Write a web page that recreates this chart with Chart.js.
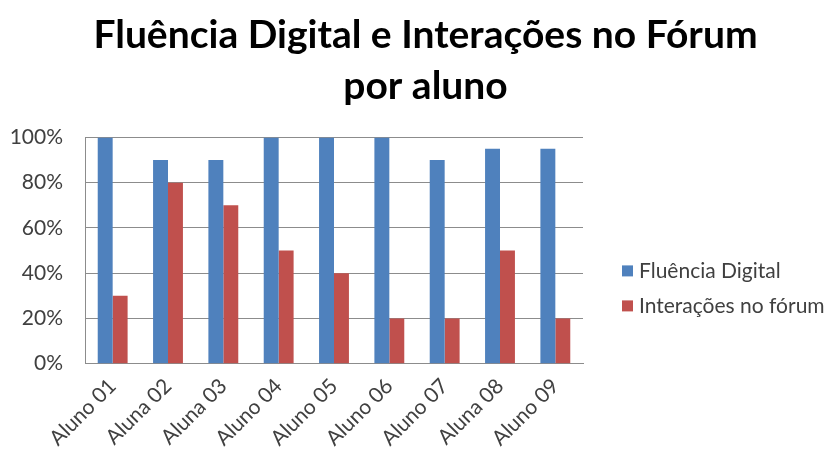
<!DOCTYPE html>
<html>
<head>
<meta charset="utf-8">
<script src="https://cdn.jsdelivr.net/npm/chart.js@4.4.1/dist/chart.umd.min.js"></script>
<style>
  html, body { margin: 0; padding: 0; background: #fff; }
  #wrap { width: 833px; height: 455px; }
</style>
</head>
<body>
<div id="wrap"><canvas id="c"></canvas></div>
<script>
const categories = ['Aluno 01', 'Aluna 02', 'Aluna 03', 'Aluno 04', 'Aluno 05', 'Aluno 06', 'Aluno 07', 'Aluna 08', 'Aluno 09']
const fluencia = [100, 90, 90, 100, 100, 100, 90, 95, 95]
const interacoes = [30, 80, 70, 50, 40, 20, 20, 50, 20]
const yTicks = [0, 20, 40, 60, 80, 100]

const font = 'Lato, Calibri, sans-serif'

// legend drawn by hand so the gap and row spacing match the Excel look
const sideLegend = {
  id: 'side-legend',
  afterDraw(chart) {
    const { ctx, chartArea, data } = chart
    const x = chartArea.right + 39
    const y0 = chartArea.top + 134
    ctx.save()
    ctx.font = `21px ${font}`
    ctx.textBaseline = 'middle'
    data.datasets.forEach((ds, i) => {
      const y = y0 + i * 35
      ctx.fillStyle = ds.backgroundColor
      ctx.fillRect(x, y - 6, 11, 11)
      ctx.fillStyle = '#404040'
      ctx.fillText(ds.label, x + 17, y)
    })
    ctx.restore()
  }
}

const chart = new Chart(document.getElementById('c'), {
  type: 'bar',
  data: {
    labels: categories,
    datasets: [
      { label: 'Fluência Digital', data: fluencia, backgroundColor: '#4F81BD' },
      { label: 'Interações no fórum', data: interacoes, backgroundColor: '#C0504D' }
    ]
  },
  options: {
    responsive: true,
    maintainAspectRatio: false,
    animation: false,
    layout: { padding: { left: 0, right: -18, top: 10, bottom: 2 } },
    datasets: {
      bar: { categoryPercentage: 0.54, barPercentage: 1 }
    },
    scales: {
      x: {
        grid: { display: false },
        border: { color: '#8c8c8c' },
        ticks: {
          color: '#404040',
          font: { family: font, size: 21 },
          minRotation: 45,
          maxRotation: 45,
          padding: 2
        }
      },
      y: {
        min: 0,
        max: 100,
        afterBuildTicks(axis) {
          axis.ticks = yTicks.map(v => ({ value: v }))
        },
        afterFit(scale) {
          scale.width = 85
        },
        grid: { color: '#8c8c8c', drawTicks: false },
        border: { color: '#8c8c8c' },
        ticks: {
          color: '#404040',
          font: { family: font, size: 21 },
          padding: 22,
          callback: v => v + '%'
        }
      },
      // empty right axis keeps room for the legend
      side: {
        position: 'right',
        grid: { display: false },
        border: { display: false },
        ticks: { display: false },
        afterFit(scale) {
          scale.width = 268
        }
      }
    },
    plugins: {
      title: {
        display: true,
        text: ['Fluência Digital e Interações no Fórum', 'por aluno'],
        color: '#000',
        font: { family: font, size: 39, weight: 'bold', lineHeight: 1.3 },
        padding: { top: 0, bottom: 26 }
      },
      legend: { display: false },
      tooltip: { enabled: false }
    }
  },
  plugins: [sideLegend]
})
</script>
</body>
</html>
